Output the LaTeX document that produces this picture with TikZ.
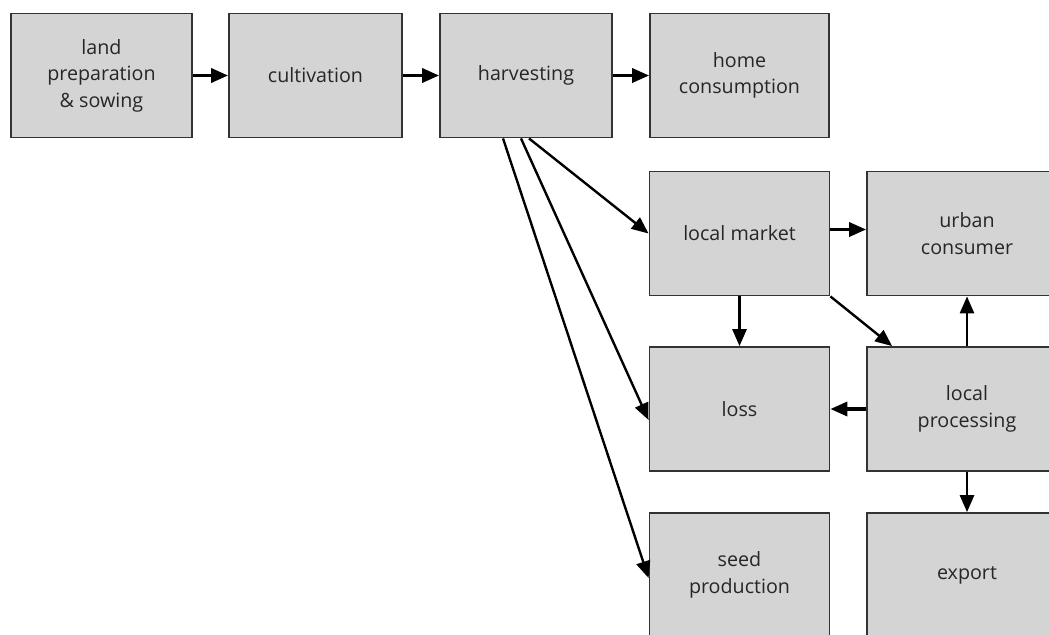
\documentclass[tikz,border=0pt]{standalone}
\usepackage{fontspec}
\setmainfont{Open Sans}
\usetikzlibrary{calc,arrows.meta}
\def\stagefont{\fontsize{14}{18.8}\selectfont}

\begin{document}
\begin{tikzpicture}[x=0.025cm,y=-0.025cm,
    stage/.style={draw=black!80, fill=black!17, line width=1.3pt,
        minimum width=#1, minimum height=3.1cm, inner sep=0pt,
        align=center, text=black!85, font=\stagefont},
    stage/.default=4.5cm,
    flow/.style={line width=1.7pt, -{Triangle[length=12pt,width=10pt]}},
    wideflow/.style={flow, line width=2.2pt}]
    \useasboundingbox (0,0) rectangle (1049,634);
    % top row
    \node[stage=4.525cm] (land) at (101.5,75.5) {land\\preparation\\\& sowing};
    \node[stage=4.325cm] (cult) at (315.5,75.5) {cultivation};
    \node[stage=4.3cm]   (harv) at (526,75.5)   {harvesting};
    \node[stage=4.475cm] (home) at (739.5,75.5) {home\\consumption};
    % after harvest
    \node[stage] (mkt)  at (739.5,233.5) {local market};
    \node[stage] (loss) at (739.5,409)   {loss};
    \node[stage] (seed) at (739.5,575)   {seed\\production};
    \node[stage=5cm] (urban)  at (967,233.5) {urban\\consumer};
    \node[stage=5cm] (proc)   at (967,409)   {local\\processing};
    \node[stage=5cm] (export) at (967,575)   {export};

    \draw[wideflow] (land) -- (cult);
    \draw[wideflow] (cult) -- (harv);
    \draw[wideflow] (harv) -- (home);
    \draw[flow] ($(harv.south)+(3,0)$) -- (mkt.west);
    \draw[flow] ($(harv.south)+(-5,0)$) -- ($(loss.west)+(0,11)$);
    \draw[flow] ($(harv.south)+(-23,0)$) -- ($(seed.west)+(0,3)$);
    \draw[wideflow] ($(mkt.east)+(0,-4)$) -- ($(urban.west)+(0,-4)$);
    \draw[flow] (mkt) -- (loss);
    \draw[flow] (mkt.south east) -- ($(proc.north west)+(26,0)$);
    \draw[flow] (proc) -- (urban);
    \draw[wideflow] (proc) -- (loss);
    \draw[flow] (proc) -- (export);
\end{tikzpicture}
\end{document}
